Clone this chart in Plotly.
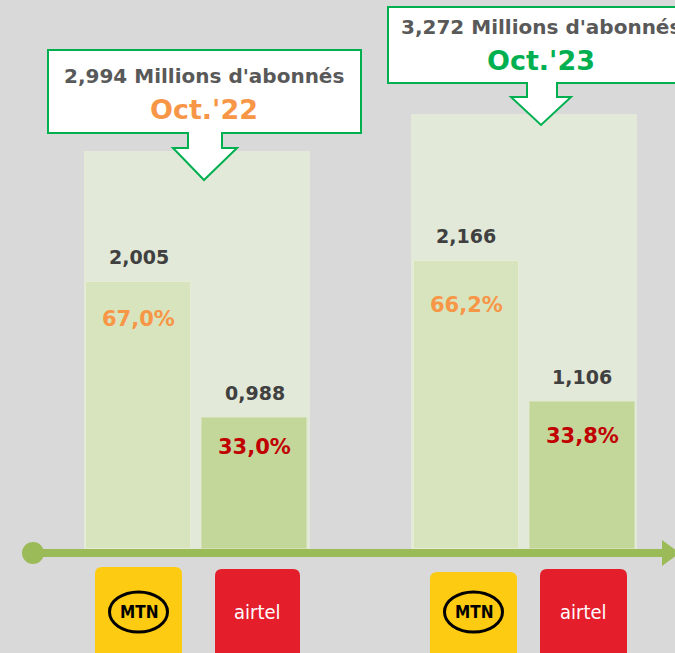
import plotly.graph_objects as go

# ---------------- data ----------------
periods = ["Oct.'22", "Oct.'23"]
operators = ["MTN", "airtel"]
totals = [2.994, 3.272]          # millions d'abonnés
mtn_values = [2.005, 2.166]
airtel_values = [0.988, 1.106]
mtn_share = ["67,0%", "66,2%"]
airtel_share = ["33,0%", "33,8%"]
period_colors = ["#F79646", "#00B050"]

# ---------------- layout constants ----------------
W, H = 675, 653
BASE_PX = 549.0          # pixel row of value 0
SCALE = 133.1            # pixels per million
y_top = BASE_PX / SCALE
y_bot = -(H - BASE_PX) / SCALE

group_centers = [196.5, 524.0]
sub_offset = 58.0
sub_width = 105.0
total_width = 226.0

FONT = "DejaVu Sans, sans-serif"
BG = "#D9D9D9"


def px(x):
    return x / W


def py(y):
    return 1 - y / H


fig = go.Figure()

# total background bars
fig.add_trace(go.Bar(x=group_centers, y=totals, width=[total_width] * 2,
                     marker=dict(color="#E3E9D8", line=dict(width=0)),
                     hoverinfo="skip", showlegend=False))
# MTN bars
fig.add_trace(go.Bar(x=[c - sub_offset for c in group_centers], y=mtn_values,
                     width=[sub_width] * 2,
                     marker=dict(color="#D8E4BD", line=dict(color="#E6EDD3", width=1)),
                     hoverinfo="skip", showlegend=False, name="MTN"))
# Airtel bars
fig.add_trace(go.Bar(x=[c + sub_offset for c in group_centers], y=airtel_values,
                     width=[sub_width] * 2,
                     marker=dict(color="#C4D79B", line=dict(color="#D3E1B2", width=1)),
                     hoverinfo="skip", showlegend=False, name="airtel"))


def fmt(v):
    return f"{v:.3f}".replace(".", ",")


annotations = []
mtn_pct_shift = [-37, -44]
air_pct_shift = [-29, -34]
for i, c in enumerate(group_centers):
    for xv, val, pct, pcol, shift in [
        (c - sub_offset, mtn_values[i], mtn_share[i], "#F79646", mtn_pct_shift[i]),
        (c + sub_offset, airtel_values[i], airtel_share[i], "#C00000", air_pct_shift[i]),
    ]:
        annotations.append(dict(x=xv, y=val, xref="x", yref="y", text=f"<b>{fmt(val)}</b>",
                                showarrow=False, yshift=25, yanchor="middle",
                                font=dict(family=FONT, size=19, color="#404040")))
        annotations.append(dict(x=xv, y=val, xref="x", yref="y", text=f"<b>{pct}</b>",
                                showarrow=False, yshift=shift, yanchor="middle",
                                font=dict(family=FONT, size=21, color=pcol)))

shapes = []

# callouts
callouts = [
    dict(box=(48, 50, 361, 133), stem=(188, 222), head=(173, 237), head_y=148, tip=(204, 180),
         t1y=76, t2y=110, cx=204),
    dict(box=(388, 7, 705, 83), stem=(527, 557), head=(511, 571), head_y=97, tip=(541, 125),
         t1y=27, t2y=60, cx=541),
]
for i, cb in enumerate(callouts):
    x0, y0, x1, y1 = cb["box"]
    s0, s1 = cb["stem"]
    h0, h1 = cb["head"]
    hy = cb["head_y"]
    tx, ty = cb["tip"]
    pts = [(x0, y0), (x1, y0), (x1, y1), (s1, y1), (s1, hy), (h1, hy), (tx, ty),
           (h0, hy), (s0, hy), (s0, y1), (x0, y1)]
    path = "M " + " L ".join(f"{px(a):.5f},{py(b):.5f}" for a, b in pts) + " Z"
    shapes.append(dict(type="path", path=path, xref="paper", yref="paper",
                       fillcolor="white", line=dict(color="#00B050", width=2), layer="above"))
    annotations.append(dict(x=px(cb["cx"]), y=py(cb["t1y"]), xref="paper", yref="paper",
                            text=f"<b>{fmt(totals[i])} Millions d'abonnés</b>", showarrow=False,
                            xanchor="center", yanchor="middle",
                            font=dict(family=FONT, size=20, color="#595959")))
    annotations.append(dict(x=px(cb["cx"]), y=py(cb["t2y"]), xref="paper", yref="paper",
                            text=f"<b>{periods[i]}</b>", showarrow=False,
                            xanchor="center", yanchor="middle",
                            font=dict(family=FONT, size=27, color=period_colors[i])))

# timeline
LINE_Y = 553
shapes.append(dict(type="line", xref="paper", yref="paper", x0=px(33), x1=px(664),
                   y0=py(LINE_Y), y1=py(LINE_Y), line=dict(color="#9BBB59", width=8), layer="above"))
shapes.append(dict(type="circle", xref="paper", yref="paper", x0=px(22), x1=px(44),
                   y0=py(LINE_Y - 11), y1=py(LINE_Y + 11), fillcolor="#9BBB59",
                   line=dict(width=0), layer="above"))
tri = [(662, LINE_Y - 13), (680, LINE_Y), (662, LINE_Y + 13)]
shapes.append(dict(type="path", xref="paper", yref="paper",
                   path="M " + " L ".join(f"{px(a):.5f},{py(b):.5f}" for a, b in tri) + " Z",
                   fillcolor="#9BBB59", line=dict(width=0), layer="above"))


def roundrect(x0, y0, x1, y1, r):
    p = []
    p.append(f"M {px(x0 + r):.5f},{py(y0):.5f}")
    p.append(f"L {px(x1 - r):.5f},{py(y0):.5f}")
    p.append(f"Q {px(x1):.5f},{py(y0):.5f} {px(x1):.5f},{py(y0 + r):.5f}")
    p.append(f"L {px(x1):.5f},{py(y1 - r):.5f}")
    p.append(f"Q {px(x1):.5f},{py(y1):.5f} {px(x1 - r):.5f},{py(y1):.5f}")
    p.append(f"L {px(x0 + r):.5f},{py(y1):.5f}")
    p.append(f"Q {px(x0):.5f},{py(y1):.5f} {px(x0):.5f},{py(y1 - r):.5f}")
    p.append(f"L {px(x0):.5f},{py(y0 + r):.5f}")
    p.append(f"Q {px(x0):.5f},{py(y0):.5f} {px(x0 + r):.5f},{py(y0):.5f} Z")
    return " ".join(p)


# logos
logos = [
    ("MTN", 95, 567, 182, 662),
    ("airtel", 215, 569, 300, 662),
    ("MTN", 430, 572, 517, 662),
    ("airtel", 540, 569, 627, 662),
]
for name, x0, y0, x1, y1 in logos:
    cx = (x0 + x1) / 2
    cyc = 612
    if name == "MTN":
        shapes.append(dict(type="path", xref="paper", yref="paper", path=roundrect(x0, y0, x1, y1, 7),
                           fillcolor="#FCCB12", line=dict(width=0), layer="above"))
        shapes.append(dict(type="circle", xref="paper", yref="paper", x0=px(cx - 29), x1=px(cx + 29),
                           y0=py(cyc - 20), y1=py(cyc + 20), fillcolor="rgba(0,0,0,0)",
                           line=dict(color="black", width=3), layer="above"))
        annotations.append(dict(x=px(cx), y=py(cyc), xref="paper", yref="paper", text="<b>MTN</b>",
                                showarrow=False, xanchor="center", yanchor="middle",
                                font=dict(family="DejaVu Sans Condensed, Liberation Sans Narrow, sans-serif",
                                          size=17, color="black")))
    else:
        shapes.append(dict(type="path", xref="paper", yref="paper", path=roundrect(x0, y0, x1, y1, 7),
                           fillcolor="#E41E2B", line=dict(width=0), layer="above"))
        annotations.append(dict(x=px(cx), y=py(cyc), xref="paper", yref="paper", text="airtel",
                                showarrow=False, xanchor="center", yanchor="middle",
                                font=dict(family="DejaVu Sans Condensed, Liberation Sans Narrow, sans-serif",
                                          size=20, color="white")))

fig.update_layout(
    width=W, height=H, autosize=False,
    margin=dict(l=0, r=0, t=0, b=0, pad=0),
    paper_bgcolor=BG, plot_bgcolor=BG,
    barmode="overlay", bargap=0,
    xaxis=dict(range=[0, W], visible=False, fixedrange=True),
    yaxis=dict(range=[y_bot, y_top], visible=False, fixedrange=True),
    shapes=shapes, annotations=annotations,
    showlegend=False,
)

fig.write_html("out.html", config={"displayModeBar": False},
               post_script="document.body.style.margin='0';document.body.style.overflow='hidden';")
